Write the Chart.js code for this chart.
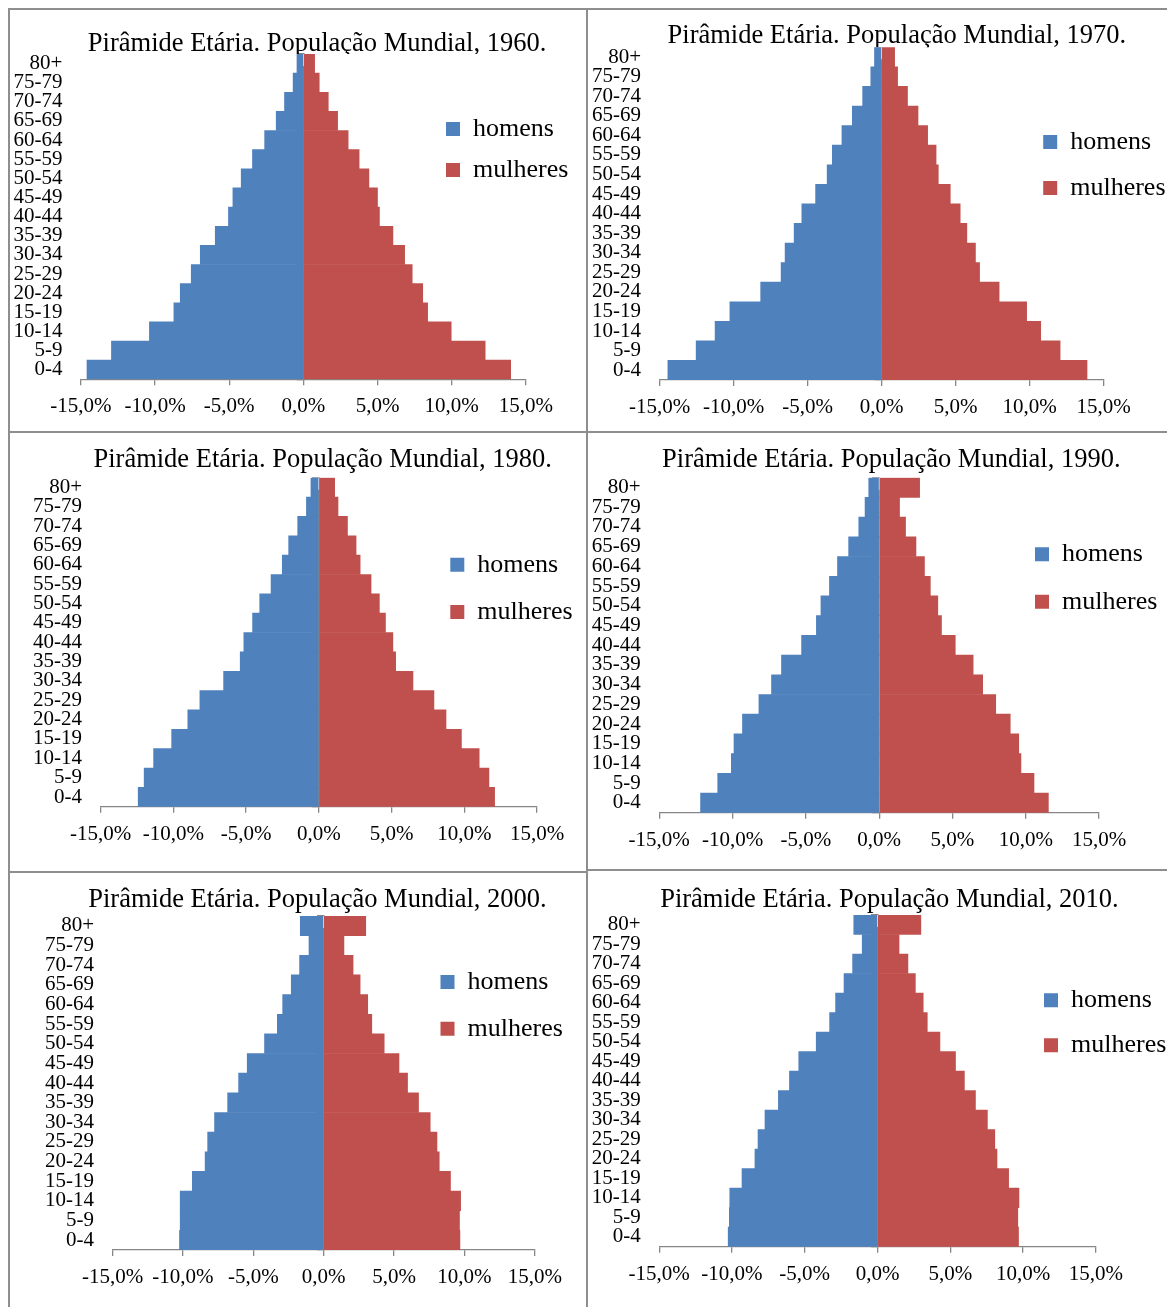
<!DOCTYPE html>
<html>
<head>
<meta charset="utf-8">
<title>Pirâmide Etária. População Mundial</title>
<script src="https://cdn.jsdelivr.net/npm/chart.js@4.4.1/dist/chart.umd.min.js"></script>
<style>
  body { margin: 0; background: #fff; }
  #page { position: relative; width: 1167px; height: 1307px; overflow: hidden; background: #fff; }
  .rule { position: absolute; background: #8e8e8e; }
  canvas { position: absolute; }
</style>
</head>
<body>
<div id="page">
  <canvas id="c1960" width="576" height="421" style="left:10px;top:10px"></canvas>
  <canvas id="c1970" width="579" height="421" style="left:588px;top:10px"></canvas>
  <canvas id="c1980" width="576" height="438" style="left:10px;top:433px"></canvas>
  <canvas id="c1990" width="579" height="436" style="left:588px;top:433px"></canvas>
  <canvas id="c2000" width="576" height="434" style="left:10px;top:873px"></canvas>
  <canvas id="c2010" width="579" height="436" style="left:588px;top:871px"></canvas>
  <!-- table rules -->
  <div class="rule" style="left:8px;top:8px;width:1159px;height:2px"></div>
  <div class="rule" style="left:8px;top:8px;width:2px;height:1299px"></div>
  <div class="rule" style="left:586px;top:8px;width:2px;height:1299px"></div>
  <div class="rule" style="left:8px;top:431px;width:1159px;height:2px"></div>
  <div class="rule" style="left:8px;top:871px;width:580px;height:2px"></div>
  <div class="rule" style="left:586px;top:869px;width:581px;height:2px"></div>
</div>
<script>
const FONT = "'Liberation Serif', 'Times New Roman', Times, serif";
Chart.defaults.font.family = FONT;
Chart.defaults.color = '#000';

// age groups, bottom to top
const ageGroups = ['0-4', '5-9', '10-14', '15-19', '20-24', '25-29', '30-34', '35-39',
  '40-44', '45-49', '50-54', '55-59', '60-64', '65-69', '70-74', '75-79', '80+'];
const xTickLabels = ['-15,0%', '-10,0%', '-5,0%', '0,0%', '5,0%', '10,0%', '15,0%'];
const seriesNames = ['homens', 'mulheres'];
const years = [1960, 1970, 1980, 1990, 2000, 2010];

// share of world population (%) per age group, same order as ageGroups
const homens1960 = [14.59, 12.94, 10.38, 8.73, 8.30, 7.56, 6.95, 5.94, 5.05, 4.75, 4.19, 3.43, 2.61, 1.83, 1.27, 0.69, 0.43];
const mulheres1960 = [13.98, 12.26, 9.97, 8.38, 8.05, 7.34, 6.83, 6.04, 5.13, 5.00, 4.42, 3.76, 3.02, 2.31, 1.68, 1.07, 0.76];
const homens1970 = [14.44, 12.53, 11.25, 10.25, 8.17, 6.79, 6.52, 5.91, 5.39, 4.46, 3.68, 3.33, 2.68, 1.98, 1.28, 0.73, 0.48];
const mulheres1970 = [13.88, 12.06, 10.75, 9.80, 7.94, 6.62, 6.34, 5.76, 5.31, 4.64, 3.83, 3.68, 3.11, 2.46, 1.75, 1.08, 0.88];
const homens1980 = [12.41, 12.00, 11.35, 10.11, 9.00, 8.17, 6.54, 5.40, 5.15, 4.55, 4.06, 3.28, 2.51, 2.07, 1.45, 0.85, 0.54];
const mulheres1980 = [12.08, 11.69, 11.02, 9.80, 8.74, 7.91, 6.47, 5.28, 5.09, 4.58, 4.16, 3.59, 2.84, 2.56, 1.97, 1.32, 1.09];
const homens1990 = [12.18, 11.01, 10.08, 9.90, 9.32, 8.20, 7.34, 6.66, 5.29, 4.28, 3.97, 3.39, 2.84, 2.08, 1.39, 0.96, 0.71];
const mulheres1990 = [11.54, 10.56, 9.67, 9.52, 8.94, 7.95, 7.06, 6.41, 5.19, 4.25, 4.00, 3.49, 3.09, 2.51, 1.80, 1.39, 2.76];
const homens2000 = [10.24, 10.19, 10.19, 9.33, 8.42, 8.24, 7.75, 6.82, 6.04, 5.43, 4.20, 3.29, 2.91, 2.30, 1.71, 1.04, 1.66];
const mulheres2000 = [9.68, 9.65, 9.73, 9.01, 8.21, 8.05, 7.57, 6.74, 5.96, 5.35, 4.30, 3.42, 3.13, 2.59, 2.09, 1.44, 2.99];
const homens2010 = [10.26, 10.18, 10.15, 9.31, 8.42, 8.21, 7.73, 6.81, 6.05, 5.41, 4.21, 3.29, 2.88, 2.30, 1.71, 1.05, 1.63];
const mulheres2010 = [9.69, 9.64, 9.72, 9.01, 8.21, 8.06, 7.55, 6.73, 5.97, 5.36, 4.29, 3.42, 3.14, 2.60, 2.09, 1.48, 2.98];

const homensByYear = [homens1960, homens1970, homens1980, homens1990, homens2000, homens2010];
const mulheresByYear = [mulheres1960, mulheres1970, mulheres1980, mulheres1990, mulheres2000, mulheres2010];

// where things sit inside each canvas (pixels)
const panelLayout = [
  {left: 70.9, right: 515.8, top: 44.0, bottom: 369.3, titleX: 307.1, titleY: 34.0, legendX: 436.0, legendY: 112.0, legendGap: 15},
  {left: 71.6, right: 515.6, top: 37.3, bottom: 370.0, titleX: 308.8, titleY: 26.3, legendX: 455.2, legendY: 125.0, legendGap: 20},
  {left: 90.5, right: 527.1, top: 44.7, bottom: 373.7, titleX: 312.7, titleY: 27.5, legendX: 440.3, legendY: 124.7, legendGap: 21.3},
  {left: 71.2, right: 511.1, top: 44.7, bottom: 379.7, titleX: 303.3, titleY: 27.5, legendX: 447.0, legendY: 114.3, legendGap: 21.4},
  {left: 102.5, right: 524.8, top: 43.0, bottom: 377.0, titleX: 307.5, titleY: 27.5, legendX: 430.5, legendY: 102.0, legendGap: 20.7},
  {left: 71.2, right: 507.8, top: 44.0, bottom: 375.7, titleX: 301.4, titleY: 29.5, legendX: 456.0, legendY: 122.3, legendGap: 19}
];

const TITLE_SIZE = 26.5;
const TITLE_H = TITLE_SIZE * 1.2;
const LEGEND_SIZE = 26;
const LEGEND_BOX = 14;
const AXIS_COLOR = '#868686';

// moves title and legend to fixed spots (the legend floats over the plot)
const placeBoxes = {
  id: 'placeBoxes',
  afterLayout(chart, args, opts) {
    const t = chart.titleBlock;
    if (t) {
      const w = t.right - t.left, h = t.bottom - t.top;
      t.left = opts.titleX - w / 2; t.right = t.left + w;
      t.top = opts.titleY - h / 2; t.bottom = t.top + h;
    }
    const lg = chart.legend;
    if (lg) {
      const w = lg.width, h = lg.height;
      lg.left = opts.legendX - opts.gap; lg.right = lg.left + w;
      lg.top = opts.legendY - opts.gap - (LEGEND_SIZE - LEGEND_BOX) / 2; lg.bottom = lg.top + h;
    }
  },
  // white plot background: hides title descenders that dip into the plot (as in 1970)
  beforeDatasetsDraw(chart) {
    const {ctx, chartArea: a} = chart;
    ctx.save();
    ctx.fillStyle = '#fff';
    ctx.fillRect(a.left, a.top, a.right - a.left, 12);
    ctx.restore();
  }
};

function buildPyramid(i) {
  const year = years[i];
  const p = panelLayout[i];
  const canvas = document.getElementById('c' + year);
  return new Chart(canvas, {
    type: 'bar',
    data: {
      labels: ageGroups,
      datasets: [
        {label: seriesNames[0], data: homensByYear[i].map(v => -v), backgroundColor: '#4F81BD', borderWidth: 0, xAxisID: 'x', yAxisID: 'y'},
        {label: seriesNames[1], data: mulheresByYear[i], backgroundColor: '#C0504D', borderWidth: 0, xAxisID: 'x', yAxisID: 'y'}
      ]
    },
    options: {
      indexAxis: 'y',
      responsive: false,
      animation: false,
      events: [],
      barPercentage: 1,
      categoryPercentage: 1,
      layout: {padding: {left: 0, right: canvas.width - p.right, top: p.top - TITLE_H, bottom: 0}},
      plugins: {
        title: {
          display: true,
          text: 'Pirâmide Etária. População Mundial, ' + year + '.',
          color: '#000',
          padding: 0,
          font: {family: FONT, size: TITLE_SIZE, weight: 'normal', lineHeight: 1.2}
        },
        legend: {
          position: 'chartArea',
          align: 'start',
          labels: {boxWidth: LEGEND_BOX, boxHeight: LEGEND_BOX, padding: p.legendGap, color: '#000',
            font: {family: FONT, size: LEGEND_SIZE}}
        },
        tooltip: {enabled: false},
        placeBoxes: {titleX: p.titleX, titleY: p.titleY, legendX: p.legendX, legendY: p.legendY, gap: p.legendGap}
      },
      scales: {
        x: {
          type: 'linear',
          position: 'bottom',
          min: -15,
          max: 15,
          stacked: true,
          z: 1,
          afterFit: s => { s.height = canvas.height - p.bottom; },
          grid: {drawOnChartArea: false, drawTicks: true, tickLength: 6, color: AXIS_COLOR, lineWidth: 1.3},
          border: {display: true, color: AXIS_COLOR, width: 1.3},
          ticks: {
            stepSize: 5, autoSkip: false, maxRotation: 0, padding: 9, color: '#000',
            font: {family: FONT, size: 21},
            callback: (value, index) => xTickLabels[index]
          }
        },
        y: {
          type: 'category',
          position: 'left',
          reverse: true,
          stacked: true,
          offset: true,
          afterFit: s => { s.width = p.left; },
          grid: {drawOnChartArea: false, drawTicks: true, tickLength: 15.5, color: 'rgba(0,0,0,0)'},
          border: {display: false},
          ticks: {autoSkip: false, padding: 3, color: '#000', font: {family: FONT, size: 21}}
        },
        y2: {
          type: 'category',
          axis: 'y',
          position: {x: 0},
          reverse: true,
          offset: true,
          z: 1,
          grid: {offset: true, drawOnChartArea: false, drawTicks: true, tickLength: 6, color: AXIS_COLOR, lineWidth: 1.3},
          border: {display: true, color: AXIS_COLOR, width: 1.5},
          ticks: {display: false}
        }
      }
    },
    plugins: [placeBoxes]
  });
}

years.forEach((y, i) => buildPyramid(i));
</script>
</body>
</html>
